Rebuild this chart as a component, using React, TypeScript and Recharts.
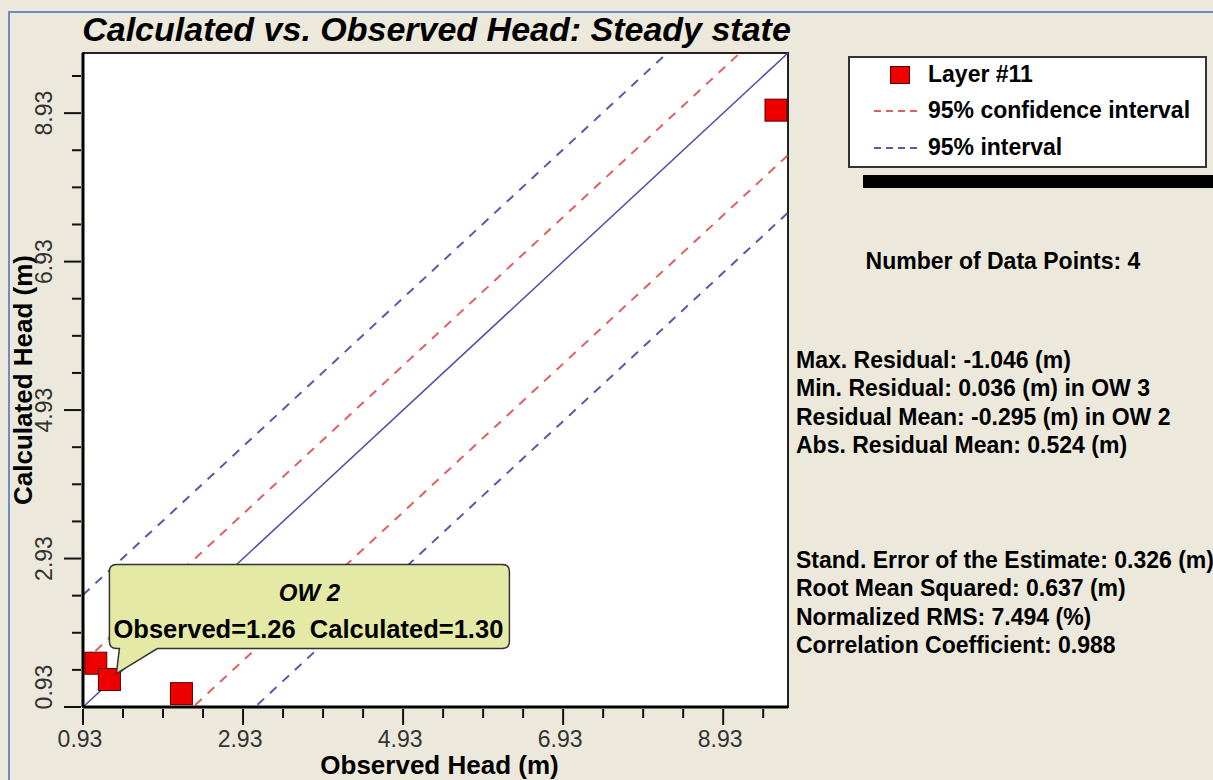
import { ScatterChart, Scatter, XAxis, YAxis, CartesianGrid, ReferenceLine, ReferenceArea, ReferenceDot, Legend, Label } from "recharts";

const FONT = '"Liberation Sans", Arial, sans-serif';

// observation wells: observed vs calculated head (m)
const wells = ["OW 1", "OW 2", "OW 3", "OW 4"];
const observed = [1.09, 1.26, 2.16, 9.59];
const calculated = [1.52, 1.3, 1.11, 8.97];

const axisDomain = [0.93, 9.74];
const axisTicks = [0.93, 1.43, 1.93, 2.43, 2.93, 3.43, 3.93, 4.43, 4.93, 5.43, 5.93, 6.43, 6.93, 7.43, 7.93, 8.43, 8.93, 9.43];
const labelledTicks = [0.93, 2.93, 4.93, 6.93, 8.93];

// offsets of the interval lines from the 1:1 line
const confidenceOffsets = [0.6, -1.375];
const intervalOffsets = [1.51, -2.15];

const calloutIndex = 1;

const statsTop = [
  "Max. Residual: -1.046 (m)",
  "Min. Residual: 0.036 (m) in OW 3",
  "Residual Mean: -0.295 (m) in OW 2",
  "Abs. Residual Mean: 0.524 (m)",
];
const statsBottom = [
  "Stand. Error of the Estimate: 0.326 (m)",
  "Root Mean Squared: 0.637 (m)",
  "Normalized RMS: 7.494 (%)",
  "Correlation Coefficient: 0.988",
];

const points = observed.map((x, i) => ({ x, y: calculated[i], name: wells[i] }));

const isLabelled = (v: number) => labelledTicks.some((t) => Math.abs(t - v) < 1e-6);

const segmentFor = (offset: number) => [
  { x: axisDomain[0], y: axisDomain[0] + offset },
  { x: axisDomain[1], y: axisDomain[1] + offset },
];

function XTick(props: any) {
  const { x, y, payload } = props;
  const major = isLabelled(payload.value);
  return (
    <g>
      <line x1={x} x2={x} y1={y} y2={y + (major ? 16 : 9)} stroke="#111" strokeWidth={2} />
      {major && (
        <text x={x - 3} y={y + 38} textAnchor="middle" fontSize={23} fill="#333" fontFamily={FONT}>
          {payload.value.toFixed(2)}
        </text>
      )}
    </g>
  );
}

function YTick(props: any) {
  const { x, y, payload } = props;
  const major = isLabelled(payload.value);
  const ly = Math.abs(payload.value - axisDomain[0]) < 1e-6 ? y - 20 : y;
  return (
    <g>
      <line x1={x} x2={x - (major ? 17 : 9)} y1={y} y2={y} stroke="#111" strokeWidth={2} />
      {major && (
        <text transform={`translate(${x - 29}, ${ly}) rotate(-90)`} textAnchor="middle" fontSize={23} fill="#333" fontFamily={FONT}>
          {payload.value.toFixed(2)}
        </text>
      )}
    </g>
  );
}

function SquareMark(props: any) {
  const { cx, cy } = props;
  return <rect x={cx - 11} y={cy - 11} width={22} height={22} fill="#EE0000" stroke="#5a0000" strokeWidth={1} />;
}

function Callout(props: any) {
  const { cx, cy } = props;
  const l = cx, r = cx + 400, t = cy - 115, b = cy - 31, k = 7;
  const d = `M${l + k},${t} H${r - k} Q${r},${t} ${r},${t + k} V${b - k} Q${r},${b} ${r - k},${b} H${cx + 48} L${cx + 7},${cy - 6} L${cx + 10},${b} H${l + k} Q${l},${b} ${l},${b - k} V${t + k} Q${l},${t} ${l + k},${t} Z`;
  return (
    <g>
      <path d={d} fill="#E4EAA6" stroke="#333" strokeWidth={1.5} />
      <text x={cx + 200} y={cy - 79} textAnchor="middle" fontSize={24} fontWeight="bold" fontStyle="italic" fontFamily={FONT} fill="#000">
        {wells[calloutIndex]}
      </text>
      <text x={cx + 199} y={cy - 42} textAnchor="middle" fontSize={25.5} fontWeight="bold" fontFamily={FONT} fill="#000" style={{ whiteSpace: "pre" }}>
        {`Observed=${observed[calloutIndex].toFixed(2)}  Calculated=${calculated[calloutIndex].toFixed(2)}`}
      </text>
    </g>
  );
}

function LegendBox() {
  const row = (top: number, mark: any, text: string) => (
    <div style={{ position: "absolute", left: 0, top, height: 30, width: 350, display: "flex", alignItems: "center" }}>
      <div style={{ width: 78, display: "flex", justifyContent: "flex-end", paddingRight: 8, boxSizing: "border-box" }}>{mark}</div>
      <span style={{ fontSize: 23, fontWeight: "bold", fontFamily: FONT, color: "#000", whiteSpace: "nowrap" }}>{text}</span>
    </div>
  );
  const dash = (color: string) => (
    <svg width={46} height={4}>
      <line x1={0} x2={46} y1={2} y2={2} stroke={color} strokeWidth={2} strokeDasharray="7 5" />
    </svg>
  );
  return (
    <div style={{ position: "relative", width: 365, height: 132 }}>
      <div style={{ position: "absolute", left: 0, top: 0, width: 359, height: 112, background: "#fff", border: "2px solid #333", boxSizing: "border-box" }}>
        {row(1.5, <div style={{ width: 20, height: 18, background: "#EE0000", border: "1px solid #5a0000", boxSizing: "border-box", marginRight: 10 }} />, "Layer #11")}
        {row(37.5, dash("#E06060"), "95% confidence interval")}
        {row(74.5, dash("#5858B0"), "95% interval")}
      </div>
      <div style={{ position: "absolute", left: 15, top: 119, width: 350, height: 13, background: "#000" }} />
    </div>
  );
}

export default function App() {
  return (
    <div style={{ position: "absolute", left: 0, top: 0, width: 1213, height: 780, background: "#ECE9DC", overflow: "hidden", fontFamily: FONT }}>
      <div style={{ position: "absolute", left: 8, top: 11, width: 1205, height: 1.5, background: "#6F8CC9" }} />
      <div style={{ position: "absolute", left: 8, top: 11, width: 1.5, height: 769, background: "#6F8CC9" }} />
      <div style={{ position: "absolute", left: 0, top: 12.2, width: 873, textAlign: "center", fontSize: 34, lineHeight: "34px", fontWeight: "bold", fontStyle: "italic", color: "#000", whiteSpace: "nowrap" }}>
        Calculated vs. Observed Head: Steady state
      </div>

      <ScatterChart width={1213} height={780} margin={{ top: 53, right: 425, bottom: 23, left: 8 }}>
        <CartesianGrid fill="#fff" horizontal={false} vertical={false} />
        <ReferenceArea x1={axisDomain[0]} x2={axisDomain[1]} y1={axisDomain[0]} y2={axisDomain[1]} fill="none" stroke="#222" strokeWidth={2} />
        <XAxis
          type="number"
          dataKey="x"
          domain={axisDomain}
          ticks={axisTicks}
          interval={0}
          allowDataOverflow
          height={50}
          tickSize={0}
          tickLine={false}
          axisLine={{ stroke: "#000", strokeWidth: 3 }}
          tick={(p: any) => <XTick {...p} />}
        >
          <Label
            content={(p: any) => (
              <text x={p.viewBox.x + p.viewBox.width / 2 + 4} y={p.viewBox.y + 67} textAnchor="middle" fontSize={26} fontWeight="bold" fontFamily={FONT} fill="#000">
                Observed Head (m)
              </text>
            )}
          />
        </XAxis>
        <YAxis
          type="number"
          dataKey="y"
          domain={axisDomain}
          ticks={axisTicks}
          interval={0}
          allowDataOverflow
          width={75}
          tickSize={0}
          tickLine={false}
          axisLine={{ stroke: "#000", strokeWidth: 3 }}
          tick={(p: any) => <YTick {...p} />}
        >
          <Label
            content={(p: any) => (
              <text transform={`translate(32, ${p.viewBox.y + p.viewBox.height / 2}) rotate(-90)`} textAnchor="middle" fontSize={26} fontWeight="bold" fontFamily={FONT} fill="#000">
                Calculated Head (m)
              </text>
            )}
          />
        </YAxis>

        {intervalOffsets.map((o) => (
          <ReferenceLine key={"pi" + o} segment={segmentFor(o)} ifOverflow="hidden" stroke="#5858B0" strokeWidth={2} strokeDasharray="9 8" />
        ))}
        {confidenceOffsets.map((o) => (
          <ReferenceLine key={"ci" + o} segment={segmentFor(o)} ifOverflow="hidden" stroke="#E06060" strokeWidth={2} strokeDasharray="9 8" />
        ))}
        <ReferenceLine segment={segmentFor(0)} ifOverflow="hidden" stroke="#5050A8" strokeWidth={1.5} />

        <Scatter name="Layer #11" data={points} shape={SquareMark} isAnimationActive={false} />

        <ReferenceDot x={observed[calloutIndex]} y={calculated[calloutIndex]} r={0} ifOverflow="visible" shape={(p: any) => <Callout {...p} />} />

        <Legend layout="vertical" align="center" verticalAlign="middle" wrapperStyle={{ left: 848, top: 56, width: 365, height: 132 }} content={() => <LegendBox />} />
      </ScatterChart>

      <div style={{ position: "absolute", left: 796, top: 247, width: 414, textAlign: "center", fontSize: 23, lineHeight: "28.3px", fontWeight: "bold", color: "#000" }}>
        Number of Data Points: {points.length}
      </div>
      <div style={{ position: "absolute", left: 796, top: 346, fontSize: 23, lineHeight: "28.3px", fontWeight: "bold", color: "#000", whiteSpace: "nowrap" }}>
        {statsTop.map((s) => (
          <div key={s}>{s}</div>
        ))}
      </div>
      <div style={{ position: "absolute", left: 796, top: 546, fontSize: 23, lineHeight: "28.3px", fontWeight: "bold", color: "#000", whiteSpace: "nowrap" }}>
        {statsBottom.map((s) => (
          <div key={s}>{s}</div>
        ))}
      </div>
    </div>
  );
}
